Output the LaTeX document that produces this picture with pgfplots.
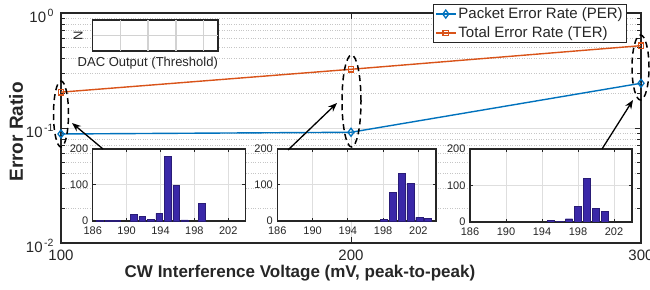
\documentclass[border=0pt]{standalone}
\usepackage{fontspec}
\setmainfont{Liberation Sans}
\usepackage{pgfplots}
\pgfplotsset{compat=1.18}
\usetikzlibrary{arrows.meta}

\definecolor{perblue}{RGB}{0,114,189}
\definecolor{terorange}{RGB}{217,83,25}
\definecolor{barblue}{RGB}{58,40,168}
\definecolor{axgray}{RGB}{38,38,38}
\definecolor{gridgray}{RGB}{222,222,222}
\definecolor{keygray}{RGB}{210,210,210}

\newcommand{\tenpow}[1]{10\hspace{1.5pt}\raisebox{6pt}{\fontsize{10.5}{10.5}\selectfont #1}}

\pgfplotsset{
  mlab/.style={
    scale only axis,
    anchor=south west,
    axis line style={axgray, line width=1.5pt},
    tick style={axgray, line width=1pt},
    tick align=inside,
    ticklabel style={text=axgray},
    /pgf/number format/assume math mode=true,
    axis background/.style={fill=white},
  },
  inset/.style={
    mlab,
    height=72pt,
    xmin=186, xmax=204, ymin=0, ymax=200,
    xtick={186,190,194,198,202},
    ytick={0,100,200},
    grid=major,
    major grid style={gridgray, line width=1pt},
    major tick length=3pt,
    axis line style={axgray, line width=1.3pt},
    ticklabel style={font=\fontsize{11}{11}\selectfont},
    xticklabel style={yshift=-2pt},
    yticklabel style={xshift=-1pt},
    /pgf/number format/1000 sep={},
  },
  barstyle/.style={ybar, bar width=0.8, fill=barblue, draw=barblue!70!black, line width=0.4pt},
}

\begin{document}
\begin{tikzpicture}[x=1pt,y=1pt]
\useasboundingbox (0pt,0pt) rectangle (650pt,289pt);

% ---------- main axis ----------
\begin{axis}[mlab,
  at={(61pt,46pt)}, width=580pt, height=230pt,
  xmin=100, xmax=300, ymode=log, ymin=0.01, ymax=1,
  xtick={100,200,300},
  ytick={0.01,0.1,1},
  yticklabels={\tenpow{-2},\tenpow{-1},\tenpow{0}},
  minor ytick={0.02,0.03,0.04,0.05,0.06,0.07,0.08,0.09,0.2,0.3,0.4,0.5,0.6,0.7,0.8,0.9},
  xmajorgrids, ymajorgrids, yminorgrids,
  major grid style={gridgray, line width=0.9pt},
  minor grid style={gray!45, dotted, line width=0.7pt},
  major tick length=6pt, minor tick length=4pt,
  ticklabel style={font=\fontsize{15}{15}\selectfont},
  xticklabel style={yshift=-3pt},
  yticklabel style={yshift=-3pt, xshift=-4pt},
  xlabel={CW Interference Voltage (mV, peak-to-peak)},
  ylabel={Error Ratio},
  xlabel style={font=\fontsize{17}{17}\selectfont\bfseries, text=axgray,
    at={(axis description cs:0.412,-0.1304)}, anchor=center},
  ylabel style={font=\fontsize{19}{19}\selectfont\bfseries, text=axgray,
    at={(axis description cs:-0.0776,0.483)}, anchor=center},
  legend style={at={(0.976,1.039)}, anchor=north east, draw=axgray, line width=0.8pt,
    fill=white, font=\fontsize{15}{15}\selectfont, text=axgray,
    inner xsep=2pt, inner ysep=1.5pt, row sep=2.5pt, legend cell align=left},
  legend image code/.code={\draw[mark repeat=2,mark phase=2,#1] plot coordinates {(0pt,0pt) (10pt,0pt) (20pt,0pt)};},
]
\addplot[color=perblue, line width=1.4pt, mark=diamond, mark size=4pt, mark options={solid, line width=1.3pt, fill=none}]
  coordinates {(100,0.0887) (200,0.0918) (300,0.245)};
\addlegendentry{Packet Error Rate (PER)}
\addplot[color=terorange, line width=1.4pt, mark=square, mark size=2.8pt, mark options={solid, line width=1.3pt, fill=none}]
  coordinates {(100,0.205) (200,0.324) (300,0.52)};
\addlegendentry{Total Error Rate (TER)}
\end{axis}

% ---------- DAC key box ----------
\begin{axis}[mlab,
  at={(92.7pt,238pt)}, width=125.3pt, height=31pt,
  xmin=0, xmax=4.52, ymin=0, ymax=2,
  xtick=\empty, ytick=\empty,
  xlabel={DAC Output (Threshold)}, ylabel={N},
  label style={font=\fontsize{13}{13}\selectfont, text=axgray},
  xlabel style={at={(axis description cs:0.44,-0.39)}, anchor=center},
  ylabel style={at={(axis description cs:-0.117,0.5)}, anchor=center},
]
\draw[keygray, line width=1.6pt] (axis cs:1,0) -- (axis cs:1,2)
  (axis cs:2,0) -- (axis cs:2,2) (axis cs:3,0) -- (axis cs:3,2)
  (axis cs:4,0) -- (axis cs:4,2) (axis cs:0,1) -- (axis cs:4.52,1);
\end{axis}

% ---------- inset 1 (100 mV) ----------
\begin{axis}[inset, at={(92.7pt,68pt)}, width=152.5pt]
\addplot[barstyle] coordinates {(186.85,1) (187.85,1) (188.85,1) (190.85,19) (191.85,12) (192.85,5) (193.85,21) (194.85,180) (195.85,99) (196.85,3) (198.85,49)};
\end{axis}

% ---------- inset 2 (200 mV) ----------
\begin{axis}[inset, at={(277.3pt,68pt)}, width=158.7pt]
\addplot[barstyle] coordinates {(198.1,4) (199.1,79) (200.1,133) (201.1,105) (202.1,10) (203.1,7)};
\end{axis}

% ---------- inset 3 (300 mV) ----------
\begin{axis}[inset, at={(470pt,67pt)}, width=162pt, height=73pt]
\addplot[barstyle] coordinates {(195,5) (196,1) (197,9) (198,43) (199,120) (200,37) (201,29)};
\end{axis}

% ---------- annotations ----------
\tikzset{ell/.style={black, line width=1.5pt, dash pattern=on 6pt off 4pt}}
\draw[ell] (61pt,175pt) ellipse [x radius=7.5pt, y radius=33pt];
\draw[ell] (351.5pt,188pt) ellipse [x radius=9.5pt, y radius=46pt];
\draw[ell] (640.5pt,221.5pt) ellipse [x radius=8.5pt, y radius=32.5pt];

\tikzset{arr/.style={black, line width=1.3pt, -{Stealth[length=9pt, width=7pt]}}}
\draw[arr] (103pt,140pt) -- (72pt,166pt);
\draw[arr] (288pt,139pt) -- (337pt,186pt);
\draw[arr] (602pt,140pt) -- (633pt,189pt);
\end{tikzpicture}
\end{document}
